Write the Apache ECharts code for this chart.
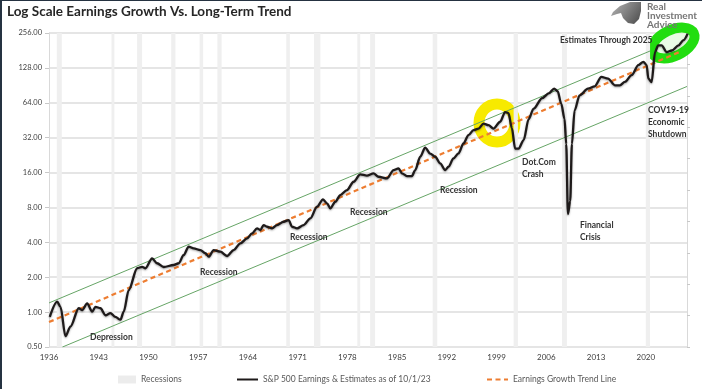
<!DOCTYPE html>
<html><head><meta charset="utf-8">
<script src="https://cdn.jsdelivr.net/npm/echarts@6/dist/echarts.min.js"></script>
<style>
html,body{margin:0;padding:0;background:#fff;}
#c{width:702px;height:389px;position:absolute;left:0;top:0;}
#frame{position:absolute;left:0;top:0;width:702px;height:389px;box-sizing:border-box;border-left:2px solid #253241;border-top:1px solid #253241;pointer-events:none;}
</style>
</head><body><div id="c"></div><div id="frame"></div>
<script>
// ---- data ----
const years = [
 1936.11,1937.15,1937.62,1938.32,1939.02,1940.19,1940.67,1941.37,1942.08,1942.54,
 1943.24,1943.95,1944.65,1945.35,1946.06,1946.52,1947.22,1948.41,1949.11,1949.57,
 1950.51,1951.22,1952.15,1953.55,1954.26,1954.96,1955.66,1956.37,1957.31,1958.01,
 1958.48,1959.18,1960.12,1961.06,1961.99,1962.93,1963.88,1964.58,1965.28,1965.75,
 1966.21,1966.69,1967.39,1968.10,1969.02,1969.73,1970.21,1970.91,1971.84,1972.78,
 1973.72,1974.57,1975.13,1975.59,1976.30,1977.00,1977.94,1978.87,1979.81,1980.75,
 1981.68,1982.39,1983.57,1984.50,1985.20,1985.68,1986.38,1987.08,1987.55,1988.25,
 1988.95,1989.66,1990.36,1991.06,1991.77,1992.23,1992.93,1993.64,1994.34,1995.04,
 1995.75,1996.45,1997.15,1997.86,1998.56,1999.50,2000.20,2000.67,2001.15,2001.61,
 2002.10,2002.81,2003.51,2004.21,2005.41,2006.39,2007.10,2007.59,2008.10,2008.56,
 2008.80,2009.04,2009.36,2009.60,2009.98,2010.68,2011.86,2012.81,2013.75,2014.69,
 2015.65,2016.35,2017.05,2018.00,2018.95,2019.66,2020.12,2020.36,2020.82,2021.30,
 2021.75,2022.23,2022.95,2023.66,2024.61,2025.32,2025.89
];
const earnings = [
 0.91,1.23,1.11,0.62,0.75,1.08,1.04,1.19,1.01,1.11,
 1.08,0.94,0.98,0.91,0.86,1.01,1.55,2.39,2.46,2.39,
 2.91,2.64,2.45,2.55,2.64,3.11,3.68,3.55,3.43,3.22,
 3.01,3.43,3.32,3.05,3.43,3.92,4.33,4.78,5.28,5.11,
 5.64,5.45,5.28,5.64,6.02,6.23,5.45,5.28,5.64,6.44,
 8.11,9.40,8.68,7.86,8.96,10.23,11.30,13.33,15.43,15.08,
 15.75,14.72,14.26,16.82,17.39,15.75,14.93,14.93,16.82,21.90,
 26.28,23.33,21.90,19.21,16.82,17.95,21.21,23.43,28.58,33.69,
 37.21,38.34,42.34,41.10,38.34,43.89,53.22,52.16,38.72,25.78,
 25.78,30.50,46.30,57.04,70.28,77.59,84.86,80.73,62.86,46.59,
 28.23,7.02,9.08,28.23,55.03,74.28,84.86,88.81,107.1,103.5,
 90.6,90.6,96.9,110.7,135.3,144.5,135.3,103.5,96.5,175.2,
 200.2,200.2,175.2,180.9,200.2,222.4,253
];
const trendYears = [1936.0, 2024.7];
const trendValues = [0.82, 175];
const upperYears = [1936.0, 2020.6];
const upperValues = [1.2, 179];
const lowerYears = [1937.9, 2025.8];
const lowerValues = [0.5, 88.5];
const recessionStarts = [1937.1,1944.8,1948.4,1953.2,1957.2,1959.7,1969.4,1973.3,1979.4,1981.2,1990.0,2001.4,2008.2,2020.0];
const recessionEnds   = [1937.8,1945.2,1949.1,1953.8,1957.7,1960.3,1969.9,1974.2,1979.8,1981.9,1990.65,2002.0,2008.9,2020.6];
const firstYear = 1936;
const lastYear = 2025.8;
const yTicks = [0.5, 256];

const seriesNames = ['Recessions','S&P 500 Earnings & Estimates as of 10/1/23','Earnings Growth Trend Line'];

// ---- build ----
const pts = (xs, ys) => xs.map((x, i) => [+(x - firstYear).toFixed(3), ys[i]]);
const FONT = 'Lato, "Open Sans", sans-serif';

const chart = echarts.init(document.getElementById('c'), null, {renderer: 'canvas'});

const annotations = [
  {t:'Depression', x:90, y:337},
  {t:'Recession', x:200, y:272},
  {t:'Recession', x:290, y:237},
  {t:'Recession', x:350, y:212},
  {t:'Recession', x:440, y:190},
  {t:'Dot.Com', x:522, y:162},
  {t:'Crash', x:522, y:174.5},
  {t:'Financial', x:580, y:225},
  {t:'Crisis', x:580, y:237},
  {t:'COV19-19', x:648, y:110},
  {t:'Economic', x:648, y:122},
  {t:'Shutdown', x:648, y:134},
  {t:'Estimates Through 2025', x:560, y:40}
];

const graphics = [
  // yellow highlighter ring
  {type:'ellipse', x:497, y:123, z:1, silent:true,
   shape:{cx:0, cy:0, rx:18, ry:19},
   style:{fill:'none', stroke:'#f7ea00', lineWidth:11}},
  // green highlighter ring
  {type:'ellipse', x:673, y:43, rotation:0.45, z:1, silent:true,
   shape:{cx:0, cy:0, rx:23, ry:13},
   style:{fill:'rgba(225,250,220,0.7)', stroke:'#22dd10', lineWidth:10}},
  // logo mark
  {type:'polygon', z:5, silent:true,
   shape:{points:[[641,2],[630,2],[620,6],[613,12],[611,16],[617,14],[621,13],[623,18],[628,23],[634,24],[639,19],[641,11]]},
   style:{fill:new echarts.graphic.LinearGradient(0,0,1,1,[{offset:0,color:'#b5b5b5'},{offset:1,color:'#4a4a4a'}])}},
  {type:'text', x:647, y:7, z:5, style:{text:'Real', font:'bold 10px '+FONT, fill:'#767676', textVerticalAlign:'middle'}},
  {type:'text', x:647, y:16, z:5, style:{text:'Investment', font:'bold 10px '+FONT, fill:'#767676', textVerticalAlign:'middle'}},
  {type:'text', x:647, y:25, z:5, style:{text:'Advice', font:'bold 10px '+FONT, fill:'#767676', textVerticalAlign:'middle'}}
];
annotations.forEach(a => graphics.push({type:'text', x:a.x, y:a.y, z:10, silent:true,
  style:{text:a.t, font:'bold 8.5px '+FONT, fill:'#333333', textVerticalAlign:'middle'}}));

const legendBase = {top:375, padding:0, itemHeight:8, textStyle:{fontFamily:FONT, fontSize:8.5, color:'#595959'}, selectedMode:false};

const option = {
  animation:false,
  backgroundColor:'#ffffff',
  title:{text:'Log Scale Earnings Growth Vs. Long-Term Trend', left:7, top:5, padding:0,
    textStyle:{fontFamily:FONT, fontWeight:'bold', fontSize:13.5, color:'#262626'}},
  grid:{left:49, right:15, top:33, bottom:42},
  xAxis:{type:'value', min:0, max:+(lastYear-firstYear).toFixed(2), interval:7,
    axisLine:{show:false}, axisTick:{show:false}, splitLine:{show:false},
    axisLabel:{formatter:v => (Math.abs(v % 7) < 1e-6 ? String(firstYear + v) : ''),
      fontFamily:FONT, fontSize:8, color:'#404040', margin:6, showMaxLabel:false}},
  yAxis:[
    {type:'log', logBase:2, min:yTicks[0], max:yTicks[1], splitNumber:9,
     axisLine:{show:true, lineStyle:{color:'#d9d9d9'}},
     axisTick:{show:true, length:4, lineStyle:{color:'#c8c8c8'}},
     splitLine:{show:true, lineStyle:{color:'#dcdcdc', width:1.5}},
     axisLabel:{formatter:v => Number(v).toFixed(2), fontFamily:FONT, fontSize:7.5, color:'#404040', margin:7}},
    {type:'value', min:0, max:1, interval:0.1, position:'right',
     axisLine:{show:true, lineStyle:{color:'#d9d9d9'}},
     axisTick:{show:true, length:3, lineStyle:{color:'#c8c8c8'}},
     axisLabel:{show:false}, splitLine:{show:false}}
  ],
  legend:[
    Object.assign({}, legendBase, {left:118, itemWidth:18,
      data:[{name:seriesNames[0], icon:'rect', itemStyle:{color:'#ececec'}}]}),
    Object.assign({}, legendBase, {left:236, itemWidth:21, itemStyle:{opacity:0}, data:[seriesNames[1]]}),
    Object.assign({}, legendBase, {left:486, itemWidth:21, itemStyle:{opacity:0}, data:[seriesNames[2]]})
  ],
  series:[
    {name:seriesNames[0], type:'line', data:[], symbol:'none', z:1, silent:true,
     itemStyle:{color:'#ececec'}, lineStyle:{color:'#ececec'},
     markArea:{silent:true, itemStyle:{color:'#efefef'},
       data:recessionStarts.map((s,i) => [{xAxis:s-firstYear},{xAxis:recessionEnds[i]-firstYear}])}},
    {name:'Upper channel', type:'line', data:pts(upperYears, upperValues), symbol:'none', z:2, silent:true,
     lineStyle:{color:'#66a566', width:1}},
    {name:'Lower channel', type:'line', data:pts(lowerYears, lowerValues), symbol:'none', z:2, silent:true,
     lineStyle:{color:'#66a566', width:1}},
    {name:seriesNames[2], type:'line', data:pts(trendYears, trendValues), symbol:'none', z:3, silent:true,
     itemStyle:{color:'#ed7d31'}, lineStyle:{color:'#ed7d31', width:2.2, type:[5,3.5]}},
    {name:seriesNames[1], type:'line', data:pts(years, earnings), symbol:'none', z:4, silent:true,
     smooth:0.3, smoothMonotone:'x',
     itemStyle:{color:'#1e1a1a'},
     lineStyle:{color:'#1e1a1a', width:2.3, shadowColor:'rgba(0,0,0,0.35)', shadowBlur:2, shadowOffsetY:1}}
  ],
  graphic:graphics
};
chart.setOption(option);
</script>
</body></html>
